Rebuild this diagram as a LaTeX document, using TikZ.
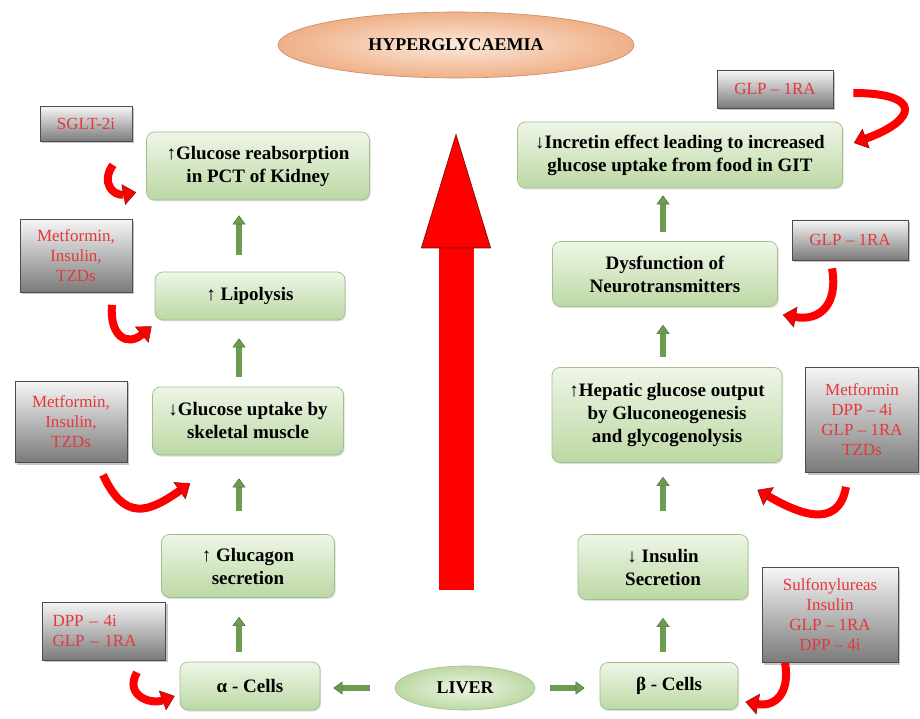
\documentclass[tikz,border=0pt]{standalone}
\usepackage{fontspec}
\setmainfont{Liberation Serif}
\usetikzlibrary{shapes.geometric,arrows.meta,shadows}

\definecolor{gtop}{HTML}{EEF6E6}
\definecolor{gbot}{HTML}{BCD8A4}
\definecolor{gline}{HTML}{A2BE8C}
\definecolor{garr}{HTML}{6C9C50}
\definecolor{garrline}{HTML}{4A7335}
\definecolor{boxtop}{HTML}{F6F6F6}
\definecolor{boxbot}{HTML}{7A7A7A}
\definecolor{drugred}{HTML}{E5383C}
\definecolor{dred}{HTML}{8E1010}
\definecolor{peachin}{HTML}{FCE9DC}
\definecolor{peachout}{HTML}{EFB087}

\tikzset{
  effect/.style={rectangle, rounded corners=8pt, draw=gline, line width=0.7pt,
    top color=gtop, bottom color=gbot, align=center, inner sep=2pt,
    font=\fontsize{19}{23}\selectfont\bfseries,
    drop shadow={opacity=0.25, shadow xshift=1.2pt, shadow yshift=-1.5pt}},
  drug/.style={rectangle, draw=black!70, line width=0.8pt,
    top color=boxtop, bottom color=boxbot, text=drugred, align=center, inner sep=2pt,
    font=\fontsize{17}{20}\selectfont,
    drop shadow={opacity=0.45, shadow xshift=2pt, shadow yshift=-2pt}},
  garrow/.style={draw=garr, line width=5.5pt,
    -{Triangle[width=13pt,length=9pt,line width=0.5pt,color=garrline,fill=garr]}},
  redarrow/.style={draw=red, line width=8pt,
    -{Triangle[width=21pt,length=13pt,line width=0.6pt,color=dred,fill=red]}},
}

\begin{document}
\begin{tikzpicture}[x=1pt,y=1pt]
  \fill[white] (0,0) rectangle (920,718);
  \useasboundingbox (0,0) rectangle (920,718);

  % top and bottom ellipses
  \node (hyper) at (456,673) [ellipse, draw=peachout!80!black, line width=0.6pt,
    inner color=peachin, outer color=peachout, minimum width=356pt, minimum height=66pt,
    font=\fontsize{18}{20}\selectfont\bfseries] {HYPERGLYCAEMIA};
  \node (liver) at (465,30) [ellipse, draw=gline, line width=0.6pt,
    inner color=gtop, outer color=gbot, minimum width=140pt, minimum height=44pt,
    font=\fontsize{18}{20}\selectfont\bfseries] {LIVER};

  % left column
  \node (kidney) at (258,552) [effect, minimum width=223pt, minimum height=68pt]
    {↑Glucose reabsorption\\in PCT of Kidney};
  \node (lipo) at (250,422) [effect, minimum width=190pt, minimum height=48pt] {↑ Lipolysis};
  \node (muscle) at (248,297) [effect, minimum width=191pt, minimum height=68pt]
    {↓Glucose uptake by\\skeletal muscle};
  \node (glucagon) at (248,152) [effect, minimum width=173pt, minimum height=63pt]
    {↑ Glucagon\\secretion};
  \node (alpha) at (250,32) [effect, minimum width=140pt, minimum height=48pt] {α - Cells};

  % right column
  \node (incretin) at (680,563) [effect, minimum width=325pt, minimum height=66pt]
    {↓Incretin effect leading to increased\\glucose uptake from food in GIT};
  \node (neuro) at (665,444) [effect, minimum width=225pt, minimum height=65pt]
    {Dysfunction of\\Neurotransmitters};
  \node (hepatic) at (667,303) [effect, minimum width=230pt, minimum height=95pt]
    {↑Hepatic glucose output\\by Gluconeogenesis\\and glycogenolysis};
  \node (insulin) at (663,151) [effect, minimum width=170pt, minimum height=65pt]
    {↓ Insulin\\Secretion};
  \node (beta) at (669,32) [effect, minimum width=138pt, minimum height=47pt] {β - Cells};

  % drug boxes
  \node (sglt) at (86,594) [drug, minimum width=92pt, minimum height=35pt] {SGLT-2i};
  \node (metA) at (76,462) [drug, minimum width=112pt, minimum height=73pt]
    {Metformin,\\Insulin,\\TZDs};
  \node (metB) at (71,296) [drug, minimum width=112pt, minimum height=81pt]
    {Metformin,\\Insulin,\\TZDs};
  \node (dpp) at (104,87) [drug, minimum height=58pt, text width=103pt, inner xsep=10pt,
    align=left] {DPP – 4i\\GLP – 1RA};
  \node (glpA) at (775,629) [drug, minimum width=116pt, minimum height=38pt] {GLP – 1RA};
  \node (glpB) at (850,478) [drug, minimum width=116pt, minimum height=40pt] {GLP – 1RA};
  \node (metC) at (862,298) [drug, minimum width=113pt, minimum height=105pt]
    {Metformin\\DPP – 4i\\GLP – 1RA\\TZDs};
  \node (sulf) at (830,103) [drug, minimum width=136pt, minimum height=95pt]
    {Sulfonylureas\\Insulin\\GLP – 1RA\\DPP – 4i};

  % big arrow
  \draw[draw=red, line width=35pt,
    -{Triangle[width=70pt,length=115pt,line width=0.8pt,color=dred,fill=red]},
    shorten <=76pt, shorten >=55pt] (hyper.south |- liver.north) -- (hyper.south);

  % green arrows
  \coordinate (colL) at (239,0);
  \coordinate (colR) at (663,0);
  \draw[garrow, shorten <=10pt, shorten >=19pt] (alpha.north -| colL) -- (glucagon.south -| colL);
  \draw[garrow, shorten <=23pt, shorten >=23pt] (glucagon.north -| colL) -- (muscle.south -| colL);
  \draw[garrow, shorten <=10pt, shorten >=18pt] (muscle.north -| colL) -- (lipo.south -| colL);
  \draw[garrow, shorten <=17pt, shorten >=15pt] (lipo.north -| colL) -- (kidney.south -| colL);
  \draw[garrow, shorten <=10pt, shorten >=18pt] (beta.north -| colR) -- (insulin.south -| colR);
  \draw[garrow, shorten <=23pt, shorten >=14pt] (insulin.north -| colR) -- (hepatic.south -| colR);
  \draw[garrow, shorten <=10pt, shorten >=18pt] (hepatic.north -| colR) -- (neuro.south -| colR);
  \draw[garrow, shorten <=9pt, shorten >=7pt] (neuro.north -| colR) -- (incretin.south -| colR);
  \draw[garrow, shorten <=25pt, shorten >=13pt] (liver.west) -- (liver.west -| alpha.east);
  \draw[garrow, shorten <=15pt, shorten >=15pt] (liver.east) -- (liver.east -| beta.west);

  % red curved arrows
  \draw[redarrow] ([shift={(27,-23)}]sglt.south) to[out=235,in=190,looseness=1.6] ([shift={(-10,8)}]kidney.south west);
  \draw[redarrow] ([shift={(36,-12)}]metA.south) to[out=265,in=220,looseness=1.8] ([shift={(-3,-6)}]lipo.south west);
  \draw[redarrow] ([shift={(32,-12)}]metB.south) to[out=-65,in=215,looseness=1.5] ([shift={(38,-28)}]muscle.south west);
  \draw[redarrow] ([shift={(33,-12)}]dpp.south) to[out=240,in=200,looseness=1.5] ([shift={(-5,-10)}]alpha.west);
  \draw[redarrow] ([shift={(20,-4)}]glpA.east) to[out=0,in=20,looseness=3.5] ([shift={(11,12)}]incretin.east);
  \draw[redarrow] ([shift={(-18,-8)}]glpB.south) to[out=-80,in=-10,looseness=1.4] ([shift={(5,-8)}]neuro.south east);
  \draw[redarrow] ([shift={(-16,-14)}]metC.south) to[out=-100,in=-30,looseness=1.3] ([shift={(-25,-27)}]hepatic.south east);
  \draw[redarrow] ([shift={(-45,0)}]sulf.south) to[out=-80,in=-10,looseness=1.4] ([shift={(7,8)}]beta.south east);
\end{tikzpicture}
\end{document}
